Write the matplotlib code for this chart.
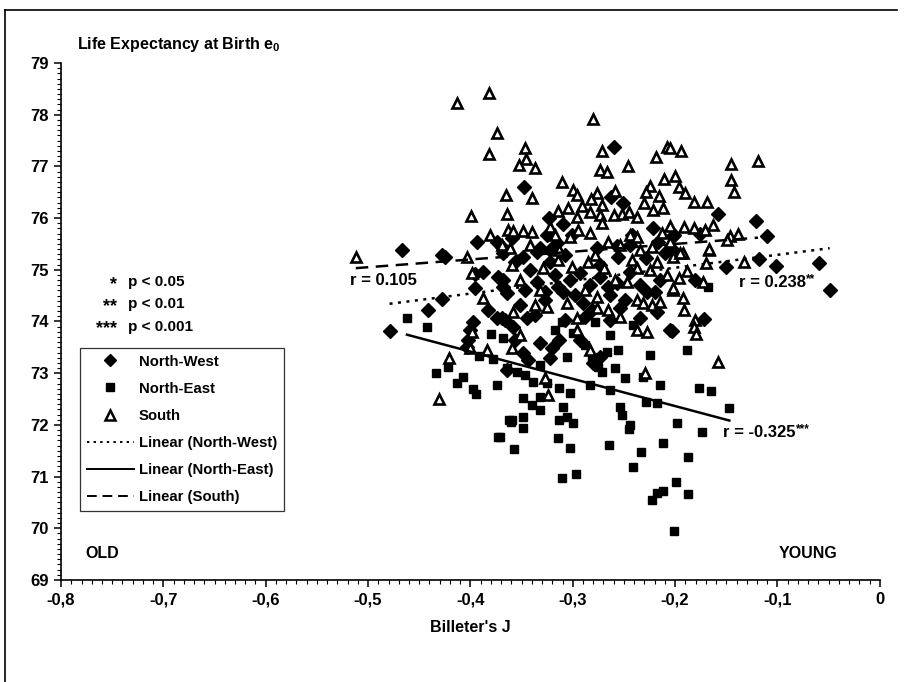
import numpy as np
import matplotlib
matplotlib.use('Agg')
import matplotlib.pyplot as plt
from matplotlib.lines import Line2D
from matplotlib.ticker import MultipleLocator, FixedLocator

plt.rcParams['font.family'] = ['Liberation Sans', 'DejaVu Sans']
plt.rcParams['font.weight'] = 'bold'
plt.rcParams['axes.labelweight'] = 'bold'
plt.rcParams['mathtext.fontset'] = 'custom'
plt.rcParams['mathtext.rm'] = 'Liberation Sans:bold'

# North-West (diamonds)
nw_x = [-0.467, -0.428, -0.425, -0.396, -0.388, -0.373, -0.368, -0.396, -0.428, -0.441,
        -0.479, -0.383, -0.374, -0.366, -0.397, -0.400, -0.402, -0.403, -0.364, -0.394,
        -0.374, -0.369, -0.260, -0.348, -0.263, -0.251, -0.323, -0.310, -0.222, -0.202,
        -0.325, -0.301, -0.242, -0.359, -0.315, -0.217, -0.332, -0.322, -0.276, -0.257,
        -0.244, -0.202, -0.368, -0.349, -0.335, -0.322, -0.308, -0.293, -0.273, -0.256,
        -0.228, -0.210, -0.368, -0.364, -0.347, -0.335, -0.327, -0.314, -0.310, -0.290,
        -0.281, -0.288, -0.266, -0.257, -0.227, -0.220, -0.218, -0.369, -0.358, -0.356,
        -0.345, -0.332, -0.320, -0.313, -0.349, -0.344, -0.205, -0.273, -0.280, -0.322,
        -0.150, -0.181, -0.118, -0.101, -0.059, -0.049, -0.172, -0.203, -0.158, -0.121,
        -0.110, -0.201, -0.176, -0.356, -0.342, -0.317, -0.303, -0.283, -0.264, -0.249,
        -0.234, -0.215, -0.327, -0.298, -0.273, -0.244, -0.352, -0.337, -0.308, -0.254,
        -0.234, -0.293, -0.264]
nw_y = [75.38, 75.29, 75.25, 74.92, 74.96, 74.86, 74.80, 74.65, 74.44, 74.22,
        73.82, 74.22, 74.07, 74.03, 73.99, 73.84, 73.64, 73.51, 73.06, 75.54,
        75.54, 75.44, 77.38, 76.60, 76.41, 76.29, 76.00, 75.89, 75.81, 75.65,
        75.67, 75.67, 75.67, 75.62, 75.52, 75.54, 75.42, 75.38, 75.42, 75.46,
        75.48, 75.38, 75.32, 75.25, 75.34, 75.15, 75.29, 74.94, 74.86, 75.25,
        75.23, 75.32, 74.67, 74.55, 74.61, 74.76, 74.57, 74.67, 74.57, 74.36,
        74.22, 74.09, 74.67, 74.74, 74.57, 74.57, 74.18, 74.07, 73.89, 73.64,
        74.07, 73.58, 73.49, 73.64, 73.39, 73.26, 73.84, 73.31, 73.20, 73.29,
        75.05, 74.80, 75.21, 75.07, 75.13, 74.61, 74.05, 73.82, 76.08, 75.94,
        75.65, 75.67, 75.69, 75.15, 75.00, 74.90, 74.80, 74.71, 74.51, 74.42,
        74.71, 74.80, 74.42, 74.51, 75.09, 74.96, 74.32, 74.13, 74.03, 74.26,
        74.07, 73.64, 74.03]

# North-East (squares)
ne_x = [-0.462, -0.442, -0.380, -0.368, -0.392, -0.378, -0.422, -0.434, -0.407, -0.413,
        -0.397, -0.395, -0.374, -0.362, -0.373, -0.360, -0.349, -0.371, -0.357, -0.314,
        -0.303, -0.300, -0.265, -0.245, -0.233, -0.241, -0.212, -0.198, -0.311, -0.297,
        -0.199, -0.218, -0.212, -0.223, -0.201, -0.174, -0.187, -0.187, -0.168, -0.188,
        -0.177, -0.165, -0.147, -0.317, -0.311, -0.300, -0.278, -0.264, -0.241, -0.306,
        -0.281, -0.267, -0.256, -0.275, -0.259, -0.249, -0.283, -0.264, -0.364, -0.354,
        -0.347, -0.339, -0.325, -0.313, -0.303, -0.332, -0.349, -0.340, -0.332, -0.310,
        -0.306, -0.313, -0.359, -0.349, -0.254, -0.252, -0.244, -0.228, -0.218, -0.231,
        -0.288, -0.271, -0.332, -0.225, -0.215]
ne_y = [74.07, 73.89, 73.76, 73.68, 73.33, 73.27, 73.12, 73.00, 72.93, 72.81,
        72.69, 72.60, 72.77, 72.09, 71.77, 72.06, 71.94, 71.77, 71.53, 71.75,
        71.55, 72.04, 71.61, 71.92, 71.48, 71.19, 71.65, 72.04, 70.97, 71.05,
        70.90, 70.68, 70.72, 70.55, 69.95, 71.86, 71.38, 70.66, 74.67, 73.45,
        72.71, 72.66, 72.33, 73.84, 73.99, 73.78, 73.99, 73.74, 73.93, 73.31,
        73.31, 73.41, 73.45, 73.12, 73.10, 72.91, 72.77, 72.68, 73.10, 73.02,
        72.97, 72.83, 72.81, 72.71, 72.62, 72.54, 72.52, 72.38, 72.29, 72.35,
        72.15, 72.09, 72.09, 72.15, 72.35, 72.19, 72.00, 72.44, 72.42, 72.93,
        73.55, 73.02, 73.16, 73.35, 72.77]

# South (open triangles)
s_x = [-0.413, -0.382, -0.374, -0.382, -0.365, -0.364, -0.399, -0.363, -0.381, -0.512,
       -0.280, -0.347, -0.346, -0.353, -0.337, -0.271, -0.246, -0.273, -0.267, -0.219,
       -0.208, -0.211, -0.200, -0.311, -0.340, -0.300, -0.296, -0.276, -0.259, -0.225,
       -0.228, -0.216, -0.282, -0.291, -0.305, -0.314, -0.271, -0.260, -0.252, -0.245,
       -0.237, -0.230, -0.222, -0.212, -0.205, -0.213, -0.273, -0.283, -0.296, -0.271,
       -0.358, -0.349, -0.340, -0.295, -0.283, -0.244, -0.237, -0.223, -0.205, -0.266,
       -0.303, -0.317, -0.322, -0.369, -0.361, -0.403, -0.398, -0.388, -0.400, -0.398,
       -0.384, -0.421, -0.431, -0.359, -0.329, -0.314, -0.301, -0.285, -0.269, -0.242,
       -0.247, -0.237, -0.218, -0.208, -0.202, -0.358, -0.337, -0.325, -0.306, -0.276,
       -0.276, -0.254, -0.237, -0.231, -0.223, -0.215, -0.202, -0.227, -0.237, -0.296,
       -0.283, -0.352, -0.359, -0.327, -0.324, -0.229, -0.296, -0.266, -0.192, -0.167,
       -0.170, -0.188, -0.196, -0.202, -0.173, -0.192, -0.191, -0.181, -0.182, -0.180,
       -0.158, -0.133, -0.194, -0.145, -0.119, -0.145, -0.142, -0.196, -0.190, -0.182,
       -0.169, -0.205, -0.163, -0.191, -0.182, -0.171, -0.146, -0.139, -0.149, -0.167,
       -0.195, -0.352, -0.332, -0.288, -0.259, -0.225, -0.313, -0.278, -0.254, -0.234,
       -0.342]
s_y = [78.23, 78.42, 77.65, 77.24, 76.45, 76.08, 76.04, 75.77, 75.67, 75.25,
       77.92, 77.36, 77.14, 77.03, 76.97, 77.30, 77.01, 76.93, 76.89, 77.18,
       77.38, 76.76, 76.81, 76.70, 76.39, 76.54, 76.45, 76.49, 76.52, 76.62,
       76.50, 76.43, 76.37, 76.23, 76.20, 76.14, 76.25, 76.06, 76.08, 76.12,
       76.02, 76.29, 76.16, 76.20, 75.85, 75.71, 76.06, 76.12, 76.02, 75.91,
       75.75, 75.75, 75.73, 75.77, 75.71, 75.67, 75.63, 75.44, 75.54, 75.54,
       75.63, 75.67, 75.83, 75.48, 75.42, 75.25, 74.94, 74.45, 73.49, 73.80,
       73.45, 73.29, 72.50, 75.09, 75.03, 75.19, 75.05, 75.15, 75.03, 75.19,
       74.76, 75.03, 75.15, 74.90, 75.25, 74.18, 74.32, 74.28, 74.36, 74.47,
       74.26, 74.09, 74.42, 74.36, 74.32, 74.38, 74.61, 73.80, 73.84, 73.84,
       73.45, 73.74, 73.49, 72.91, 72.58, 73.00, 74.07, 74.22, 75.32, 75.38,
       75.13, 74.98, 74.84, 74.65, 74.76, 74.45, 74.22, 74.03, 73.89, 73.76,
       73.22, 75.15, 77.30, 77.05, 77.10, 76.74, 76.50, 76.60, 76.49, 76.31,
       76.31, 77.36, 75.87, 75.83, 75.81, 75.77, 75.65, 75.69, 75.58, 75.40,
       75.32, 74.80, 74.61, 74.61, 74.80, 75.00, 75.38, 75.29, 75.48, 75.38,
       75.48]

# linear trends (intercept, slope)
trend_nw = (75.54, 2.50)
trend_ne = (71.31, -5.27)
trend_s = (75.80, 1.50)

# correlation labels: (x, y, text, significance stars)
r_labels = [(-0.518, 74.8, 'r = 0.105', ''),
            (-0.138, 74.76, 'r = 0.238', '**'),
            (-0.153, 71.86, 'r = -0.325', '***')]

x_ticks = [-0.8, -0.7, -0.6, -0.5, -0.4, -0.3, -0.2, -0.1, 0.0]
x_tick_labels = ['-0,8', '-0,7', '-0,6', '-0,5', '-0,4', '-0,3', '-0,2', '-0,1', '0']
y_ticks = [69, 70, 71, 72, 73, 74, 75, 76, 77, 78, 79]

fig = plt.figure(figsize=(9.07, 6.82), dpi=100)
ax = fig.add_axes([0.0673, 0.1496, 0.9027, 0.758])

ax.plot(nw_x, nw_y, linestyle='none', marker='D', ms=7, color='black', zorder=3)
ax.plot(ne_x, ne_y, linestyle='none', marker='s', ms=6.2, color='black', zorder=3)
ax.plot(s_x, s_y, linestyle='none', marker='^', ms=7.2, mfc='white', mec='black',
        mew=1.9, zorder=3)


def trend(xs, coef):
    xx = np.array([min(xs), max(xs)])
    return xx, coef[0] + coef[1] * xx


tx, ty = trend(nw_x, trend_nw)
ax.plot(tx, ty, color='black', lw=1.8, linestyle=(0, (1.2, 2.2)), zorder=4)
tx, ty = trend(ne_x, trend_ne)
ax.plot(tx, ty, color='black', lw=1.8, zorder=4)
tx, ty = trend(s_x, trend_s)
ax.plot(tx, ty, color='black', lw=1.8, linestyle=(0, (5, 3)), zorder=4)

ax.set_xlim(-0.8, 0)
ax.set_ylim(69, 79)
ax.xaxis.set_major_locator(FixedLocator(x_ticks))
ax.set_xticklabels(x_tick_labels)
ax.xaxis.set_minor_locator(MultipleLocator(0.01))
ax.set_yticks(y_ticks)
ax.yaxis.set_minor_locator(MultipleLocator(0.1))
ax.tick_params(which='major', direction='out', length=5, width=1.1, labelsize=12, pad=4)
ax.tick_params(which='minor', direction='out', length=3, width=0.8)
for side in ['top', 'right']:
    ax.spines[side].set_visible(False)
for side in ['left', 'bottom']:
    ax.spines[side].set_linewidth(1.2)

ax.set_xlabel("Billeter's J", fontsize=11.5, fontweight='bold', labelpad=9)
ax.text(0.02, 1.035, 'Life Expectancy at Birth e$_0$', transform=ax.transAxes,
        fontsize=11.5, ha='left', va='center')

for rx, ry, rt, rs in r_labels:
    t = ax.text(rx, ry, rt, fontsize=12, fontweight='bold', ha='left', va='center', zorder=5)
    if rs:
        ax.annotate(rs, xy=(1, 1), xycoords=t, xytext=(0.5, 1), textcoords='offset points',
                    fontsize=8.5, fontweight='bold', ha='left', va='top', zorder=5)

stars = ['*', '**', '***']
plevels = ['p < 0.05', 'p < 0.01', 'p < 0.001']
for i, (st, pl) in enumerate(zip(stars, plevels)):
    yy = 0.576 - i * 0.043
    ax.text(0.068, yy - 0.004, st, transform=ax.transAxes, fontsize=13, ha='right', va='center')
    ax.text(0.082, yy, pl, transform=ax.transAxes, fontsize=11, ha='left', va='center')

ax.text(0.03, 0.052, 'OLD', transform=ax.transAxes, fontsize=11.5, ha='left', va='center')
ax.text(0.948, 0.052, 'YOUNG', transform=ax.transAxes, fontsize=11.5, ha='right', va='center')

handles = [
    Line2D([], [], linestyle='none', marker='D', ms=6.5, color='black'),
    Line2D([], [], linestyle='none', marker='s', ms=5.8, color='black'),
    Line2D([], [], linestyle='none', marker='^', ms=6.6, mfc='white', mec='black', mew=1.8),
    Line2D([], [], color='black', lw=1.4, linestyle=(0, (1.2, 2.2))),
    Line2D([], [], color='black', lw=1.4),
    Line2D([], [], color='black', lw=1.4, linestyle=(0, (5, 3))),
]
labels = ['North-West', 'North-East', 'South', 'Linear (North-West)',
          'Linear (North-East)', 'Linear (South)']
leg = ax.legend(handles, labels, loc='upper left', bbox_to_anchor=(0.023, 0.449),
                fontsize=10.7, frameon=True, fancybox=False, handlelength=3.2,
                handletextpad=0.3, labelspacing=0.88, borderpad=0.45, borderaxespad=0)
leg.get_frame().set_edgecolor('black')
leg.get_frame().set_linewidth(0.9)

# scan frame around the figure
fig.add_artist(Line2D([0.0055, 0.989], [0.985, 0.985], color='black', lw=1.2,
                      transform=fig.transFigure))
fig.add_artist(Line2D([0.0055, 0.0055], [0.0, 0.985], color='black', lw=1.2,
                      transform=fig.transFigure))

fig.savefig('out.png', dpi=100)
